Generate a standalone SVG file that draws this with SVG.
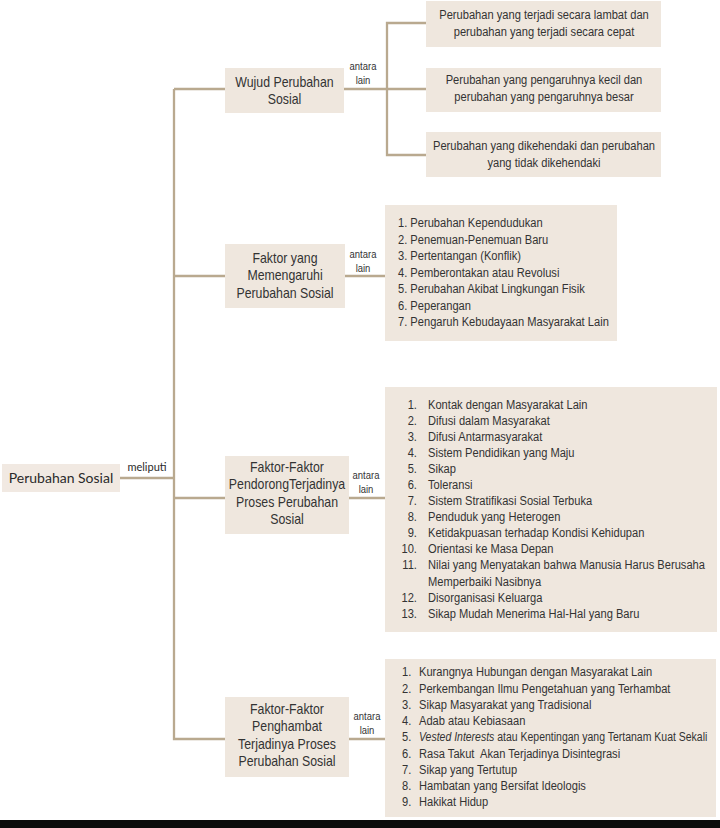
<svg xmlns="http://www.w3.org/2000/svg" width="720" height="828" viewBox="0 0 720 828">
<style>
.box{fill:#efe7de}
.root{fill:#f1e9e2}
.ln{stroke:#b9a98f;stroke-width:2.3;fill:none}
.t{font-family:"Liberation Sans",Arial,sans-serif;fill:#333}
.lbl{font-size:14px;text-anchor:middle}
.sm{font-size:11px;text-anchor:middle}
.li{font-size:12.5px}
.c{text-anchor:middle}
.num{text-anchor:end}
.rt{font-family:Lato,"Liberation Sans",sans-serif;fill:#2a2a2a}
</style>
<rect width="720" height="828" fill="#ffffff"/>
<g id="connectors">
<path class="ln" d="M174 89 V739 H225"/>
<path class="ln" d="M174 89 H225"/>
<path class="ln" d="M174 276 H225"/>
<path class="ln" d="M120 478 H174"/>
<path class="ln" d="M174 498 H225"/>
<path class="ln" d="M344 89 H426"/>
<path class="ln" d="M426 23 H387 V155 H426"/>
<path class="ln" d="M345 276 H385"/>
<path class="ln" d="M349 498 H385"/>
<path class="ln" d="M349 739 H385"/>
<text class="rt" x="147" y="471" font-size="11" text-anchor="middle">meliputi</text>
<g class="t sm" transform="translate(363,0) scale(0.86,1)">
<text x="0" y="70">antara</text>
<text x="0" y="84">lain</text>
<text x="0" y="258">antara</text>
<text x="0" y="272">lain</text>
</g>
<g class="t sm" transform="translate(366,0) scale(0.86,1)">
<text x="0" y="479">antara</text>
<text x="0" y="493">lain</text>
</g>
<g class="t sm" transform="translate(367,0) scale(0.86,1)">
<text x="0" y="720">antara</text>
<text x="0" y="734">lain</text>
</g>
</g>
<g id="root">
<rect class="root" x="2" y="464" width="118" height="28"/>
<text class="rt" x="61" y="483" font-size="14" text-anchor="middle">Perubahan Sosial</text>
</g>
<g id="wujud">
<rect class="box" x="225" y="68" width="119" height="45"/>
<g class="t lbl" transform="translate(284.5,0) scale(0.88,1)">
<text x="0" y="87">Wujud Perubahan</text>
<text x="0" y="104">Sosial</text>
</g>
</g>
<g id="wujud-1">
<rect class="box" x="426" y="1" width="235" height="46"/>
<g class="t li c" transform="translate(544,0) scale(0.89,1)">
<text x="0" y="19.5">Perubahan yang terjadi secara lambat dan</text>
<text x="0" y="36.5">perubahan yang terjadi secara cepat</text>
</g>
</g>
<g id="wujud-2">
<rect class="box" x="426" y="68" width="235" height="44"/>
<g class="t li c" transform="translate(544,0) scale(0.89,1)">
<text x="0" y="84.5">Perubahan yang pengaruhnya kecil dan</text>
<text x="0" y="101.5">perubahan yang pengaruhnya besar</text>
</g>
</g>
<g id="wujud-3">
<rect class="box" x="426" y="132" width="235" height="45"/>
<g class="t li c" transform="translate(544,0) scale(0.89,1)">
<text x="0" y="150.5">Perubahan yang dikehendaki dan perubahan</text>
<text x="0" y="167.5">yang tidak dikehendaki</text>
</g>
</g>
<g id="faktor">
<rect class="box" x="225" y="244" width="120" height="64"/>
<g class="t lbl" transform="translate(285,0) scale(0.88,1)">
<text x="0" y="263">Faktor yang</text>
<text x="0" y="280.5">Memengaruhi</text>
<text x="0" y="298">Perubahan Sosial</text>
</g>
</g>
<g id="faktor-list">
<rect class="box" x="385" y="205" width="232" height="136"/>
<g class="t li" transform="translate(398,0) scale(0.89,1)">
<text x="0" y="227.5">1. Perubahan Kependudukan</text>
<text x="0" y="244">2. Penemuan-Penemuan Baru</text>
<text x="0" y="260.4">3. Pertentangan (Konflik)</text>
<text x="0" y="276.9">4. Pemberontakan atau Revolusi</text>
<text x="0" y="293.3">5. Perubahan Akibat Lingkungan Fisik</text>
<text x="0" y="309.8">6. Peperangan</text>
<text x="0" y="326.2">7. Pengaruh Kebudayaan Masyarakat Lain</text>
</g>
</g>
<g id="pendorong">
<rect class="box" x="225" y="456" width="124" height="78"/>
<g class="t lbl" transform="translate(287,0) scale(0.88,1)">
<text x="0" y="472">Faktor-Faktor</text>
<text x="0" y="489.5">PendorongTerjadinya</text>
<text x="0" y="507">Proses Perubahan</text>
<text x="0" y="524.5">Sosial</text>
</g>
</g>
<g id="pendorong-list">
<rect class="box" x="385" y="387" width="332" height="245"/>
<g class="t li" transform="translate(428,0) scale(0.89,1)">
<text class="num" x="-12.4" y="409">1.</text><text x="0" y="409">Kontak dengan Masyarakat Lain</text>
<text class="num" x="-12.4" y="425">2.</text><text x="0" y="425">Difusi dalam Masyarakat</text>
<text class="num" x="-12.4" y="441.1">3.</text><text x="0" y="441.1">Difusi Antarmasyarakat</text>
<text class="num" x="-12.4" y="457.2">4.</text><text x="0" y="457.2">Sistem Pendidikan yang Maju</text>
<text class="num" x="-12.4" y="473.2">5.</text><text x="0" y="473.2">Sikap</text>
<text class="num" x="-12.4" y="489.3">6.</text><text x="0" y="489.3">Toleransi</text>
<text class="num" x="-12.4" y="505.3">7.</text><text x="0" y="505.3">Sistem Stratifikasi Sosial Terbuka</text>
<text class="num" x="-12.4" y="521.4">8.</text><text x="0" y="521.4">Penduduk yang Heterogen</text>
<text class="num" x="-12.4" y="537.4">9.</text><text x="0" y="537.4">Ketidakpuasan terhadap Kondisi Kehidupan</text>
<text class="num" x="-12.4" y="553.5">10.</text><text x="0" y="553.5">Orientasi ke Masa Depan</text>
<text class="num" x="-12.4" y="569.5">11.</text><text x="0" y="569.5">Nilai yang Menyatakan bahwa Manusia Harus Berusaha</text>
<text x="0" y="585.6">Memperbaiki Nasibnya</text>
<text class="num" x="-12.4" y="601.6">12.</text><text x="0" y="601.6">Disorganisasi Keluarga</text>
<text class="num" x="-12.4" y="617.7">13.</text><text x="0" y="617.7">Sikap Mudah Menerima Hal-Hal yang Baru</text>
</g>
</g>
<g id="penghambat">
<rect class="box" x="225" y="697" width="124" height="80"/>
<g class="t lbl" transform="translate(287,0) scale(0.88,1)">
<text x="0" y="714">Faktor-Faktor</text>
<text x="0" y="731.5">Penghambat</text>
<text x="0" y="749">Terjadinya Proses</text>
<text x="0" y="766.5">Perubahan Sosial</text>
</g>
</g>
<g id="penghambat-list">
<rect class="box" x="385" y="659" width="331" height="158"/>
<g class="t li" transform="translate(419,0) scale(0.89,1)">
<text x="-19.1" y="676.5">1.</text><text x="0" y="676.5">Kurangnya Hubungan dengan Masyarakat Lain</text>
<text x="-19.1" y="692.8">2.</text><text x="0" y="692.8">Perkembangan Ilmu Pengetahuan yang Terhambat</text>
<text x="-19.1" y="709">3.</text><text x="0" y="709">Sikap Masyarakat yang Tradisional</text>
<text x="-19.1" y="725.3">4.</text><text x="0" y="725.3">Adab atau Kebiasaan</text>
<text x="-19.1" y="741.5">5.</text><text x="0" y="741.5" textLength="324" lengthAdjust="spacingAndGlyphs"><tspan font-style="italic">Vested Interests</tspan> atau Kepentingan yang Tertanam Kuat Sekali</text>
<text x="-19.1" y="757.8">6.</text><text x="0" y="757.8">Rasa Takut&#160; Akan Terjadinya Disintegrasi</text>
<text x="-19.1" y="774">7.</text><text x="0" y="774">Sikap yang Tertutup</text>
<text x="-19.1" y="790.3">8.</text><text x="0" y="790.3">Hambatan yang Bersifat Ideologis</text>
<text x="-19.1" y="806.5">9.</text><text x="0" y="806.5">Hakikat Hidup</text>
</g>
</g>
<rect x="0" y="820" width="720" height="8" fill="#0b0b0b"/>
</svg>
